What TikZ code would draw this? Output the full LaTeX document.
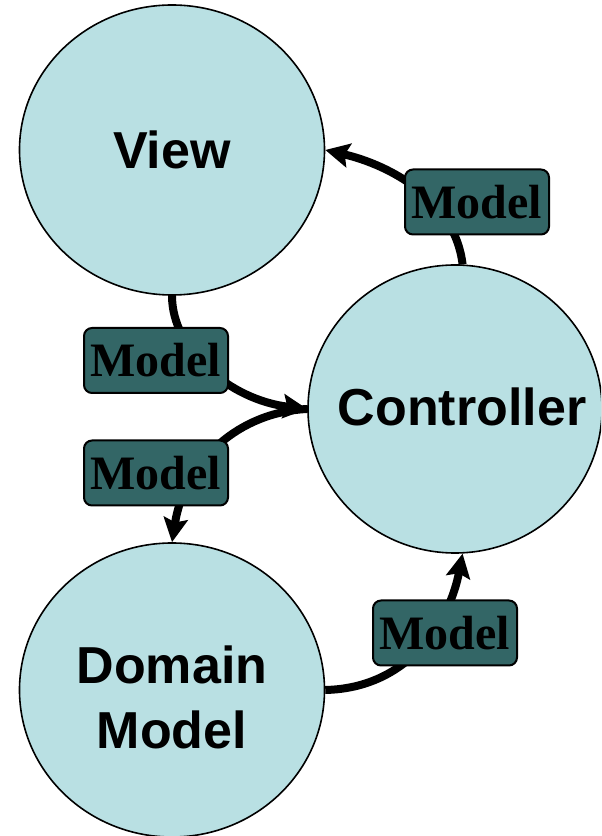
\documentclass[tikz,border=0pt]{standalone}
\usepackage{fontspec}
\setmainfont{Liberation Serif}
\newfontfamily\bubblefont{Liberation Sans}
\usetikzlibrary{arrows.meta}
\usetikzlibrary{shapes.geometric}
\definecolor{bubblefill}{RGB}{185,224,227}
\definecolor{modelfill}{RGB}{51,102,102}
\tikzset{bubble/.style={ellipse, draw=black, line width=0.8pt, fill=bubblefill, inner sep=0pt}}
\tikzset{bubbletext/.style={font=\bubblefont\bfseries\fontsize{26}{32.5}\selectfont, align=center}}
\tikzset{modelbox/.style={draw=black, line width=1pt, fill=modelfill, rounded corners=4pt,
  minimum width=72pt, minimum height=32.5pt, inner sep=0pt, font=\bfseries\fontsize{24}{24}\selectfont}}
\tikzset{flow/.style={line width=4pt, -{Stealth[length=12pt, width=12pt, inset=2pt]}}}

\begin{document}
\begin{tikzpicture}[x=0.5pt, y=0.5pt]
  \useasboundingbox (0,0) rectangle (601,836);
  \clip (0,0) rectangle (601,836);
  \node[bubble, minimum width=152.5pt, minimum height=145pt,
    label={[bubbletext]center:View}] (view) at (172,686) {};
  \node[bubble, minimum width=147pt, minimum height=144pt,
    label={[bubbletext, xshift=3.5pt, yshift=1pt]center:Controller}] (ctrl) at (455,427) {};
  \node[bubble, minimum width=152.5pt, minimum height=147pt,
    label={[bubbletext, yshift=-3.5pt]center:{Domain\\Model}}] (dom) at (172,146) {};

  \draw[flow] (ctrl.87) .. controls (455,636) and (390,671) .. (view.east);
  \draw[flow] (view.south) .. controls (172,486) and (230,436) .. (ctrl.west);
  \draw[flow] (ctrl.west) .. controls (240,424) and (185,376) .. (dom.north);
  \draw[flow] (dom.east) .. controls (410,148) and (450,216) .. (ctrl.-87);

  % the passed model sits on each link
  \node[modelbox] (m1) at (477,634) {Model};
  \node[modelbox] (m2) at (156,475.5) {Model};
  \node[modelbox] (m3) at (156,363) {Model};
  \node[modelbox] (m4) at (445,203) {Model};
\end{tikzpicture}
\end{document}
